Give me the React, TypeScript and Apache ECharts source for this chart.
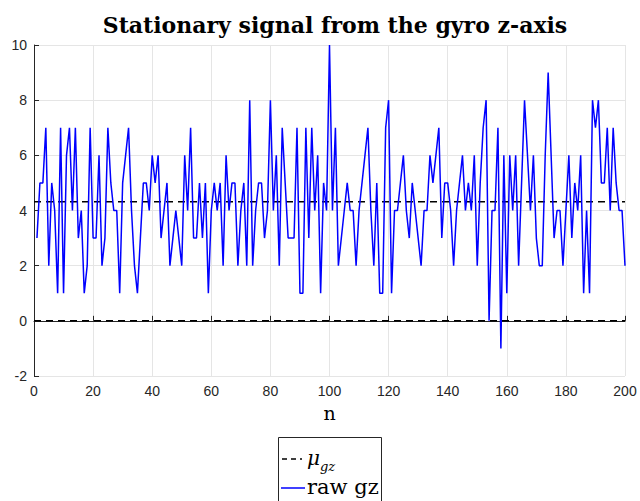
import React, { useEffect, useRef } from "react";
import * as echarts from "echarts";

const N_VALUES: number[] = Array.from({ length: 200 }, (_, i) => i + 1);
const RAW_GZ: number[] = [
  3, 5, 5, 7, 2, 5, 4, 1, 7, 1,
  6, 7, 4, 7, 3, 4, 1, 2, 7, 3,
  3, 6, 2, 3, 7, 5, 4, 4, 1, 5,
  6, 7, 4, 2, 1, 3, 5, 5, 4, 6,
  5, 6, 3, 4, 5, 2, 3, 4, 3, 2,
  6, 4, 7, 3, 3, 5, 3, 5, 1, 4,
  5, 4, 5, 2, 6, 4, 5, 5, 2, 4,
  5, 2, 8, 2, 4, 5, 5, 3, 4, 8,
  4, 6, 2, 7, 5, 3, 3, 3, 7, 1,
  1, 7, 3, 7, 4, 6, 1, 5, 4, 10,
  4, 7, 2, 3, 4, 5, 4, 4, 2, 4,
  5, 6, 7, 4, 2, 5, 1, 1, 7, 8,
  1, 4, 4, 5, 6, 4, 3, 5, 4, 3,
  2, 4, 4, 6, 5, 6, 7, 3, 5, 5,
  4, 2, 4, 5, 6, 4, 5, 4, 6, 2,
  5, 7, 8, 0, 4, 4, 7, -1, 6, 1,
  6, 4, 6, 2, 5, 8, 6, 4, 6, 3,
  2, 2, 6, 9, 6, 3, 4, 4, 2, 4,
  6, 3, 5, 4, 6, 1, 4, 1, 8, 7,
  8, 5, 5, 7, 4, 7, 5, 4, 4, 2,
];
const MU_GZ = 4.32;
const ZERO_LEVEL = 0;
const X_RANGE = [0, 200];
const Y_RANGE = [-2, 10];

export default function App() {
  const ref = useRef<HTMLDivElement>(null);
  useEffect(() => {
    if (!ref.current) return;
    const chart = echarts.init(ref.current, null, { renderer: "svg" });
    const axisColor = "#262626";
    const gridColor = "#e5e5e5";
    chart.setOption({
      animation: false,
      backgroundColor: "#ffffff",
      title: {
        text: "Stationary signal from the gyro z-axis",
        left: 330,
        top: 9,
        textAlign: "center",
        textStyle: {
          fontFamily: "DejaVu Serif",
          fontWeight: "bold",
          fontSize: 22,
          color: "#000",
        },
      },
      grid: { left: 34, top: 45, right: 15, bottom: 125 },
      xAxis: {
        type: "value",
        min: X_RANGE[0],
        max: X_RANGE[1],
        interval: 20,
        name: "n",
        nameLocation: "middle",
        nameGap: 27,
        nameTextStyle: { fontFamily: "DejaVu Serif", fontSize: 19, color: "#000" },
        axisLine: { lineStyle: { color: axisColor, width: 1 } },
        axisTick: { inside: true, length: 5, lineStyle: { color: axisColor } },
        axisLabel: { fontFamily: "Liberation Sans", fontSize: 14, color: axisColor, margin: 8 },
        splitLine: { show: true, lineStyle: { color: gridColor, width: 1 } },
      },
      yAxis: {
        type: "value",
        min: Y_RANGE[0],
        max: Y_RANGE[1],
        interval: 2,
        axisLine: { show: true, lineStyle: { color: axisColor, width: 1 } },
        axisTick: { show: true, inside: true, length: 5, lineStyle: { color: axisColor } },
        axisLabel: { fontFamily: "Liberation Sans", fontSize: 14, color: axisColor, margin: 7 },
        splitLine: { show: true, lineStyle: { color: gridColor, width: 1 } },
      },
      series: [
        {
          name: "mu",
          type: "line",
          symbol: "none",
          data: [[X_RANGE[0], MU_GZ], [X_RANGE[1], MU_GZ]],
          lineStyle: { color: "#000", width: 1.5, type: [7, 5] },
          z: 3,
        },
        {
          name: "zero",
          type: "line",
          symbol: "none",
          data: [[X_RANGE[0], ZERO_LEVEL], [X_RANGE[1], ZERO_LEVEL]],
          lineStyle: { color: "#000", width: 1.5, type: [7, 5] },
          z: 3,
        },
        {
          name: "raw gz",
          type: "line",
          symbol: "none",
          data: N_VALUES.map((n, i) => [n, RAW_GZ[i]]),
          lineStyle: { color: "#0000ff", width: 1.5 },
          z: 4,
        },
      ],
      graphic: [
        {
          type: "group",
          z: 100,
          children: [
            {
              type: "rect",
              shape: { x: 278.5, y: 437.5, width: 103, height: 80 },
              style: { fill: "#fff", stroke: "#262626", lineWidth: 1 },
            },
            {
              type: "line",
              shape: { x1: 282, y1: 459, x2: 302, y2: 459 },
              style: { stroke: "#000", lineWidth: 1.5, lineDash: [5, 4] },
            },
            {
              type: "text",
              x: 307,
              y: 458,
              style: {
                text: "μ",
                fontFamily: "DejaVu Serif",
                fontStyle: "italic",
                fontSize: 20,
                fill: "#000",
                verticalAlign: "middle",
              },
            },
            {
              type: "text",
              x: 320,
              y: 466,
              style: {
                text: "gz",
                fontFamily: "DejaVu Serif",
                fontStyle: "italic",
                fontSize: 13,
                fill: "#000",
                verticalAlign: "middle",
              },
            },
            {
              type: "line",
              shape: { x1: 281, y1: 488, x2: 305, y2: 488 },
              style: { stroke: "#0000ff", lineWidth: 1.5 },
            },
            {
              type: "text",
              x: 307,
              y: 487,
              style: {
                text: "raw gz",
                fontFamily: "DejaVu Serif",
                fontSize: 21,
                fill: "#000",
                verticalAlign: "middle",
              },
            },
          ],
        },
      ],
    });
    return () => chart.dispose();
  }, []);
  return (
    <div
      ref={ref}
      style={{ position: "fixed", left: 0, top: 0, width: 640, height: 501 }}
    />
  );
}
